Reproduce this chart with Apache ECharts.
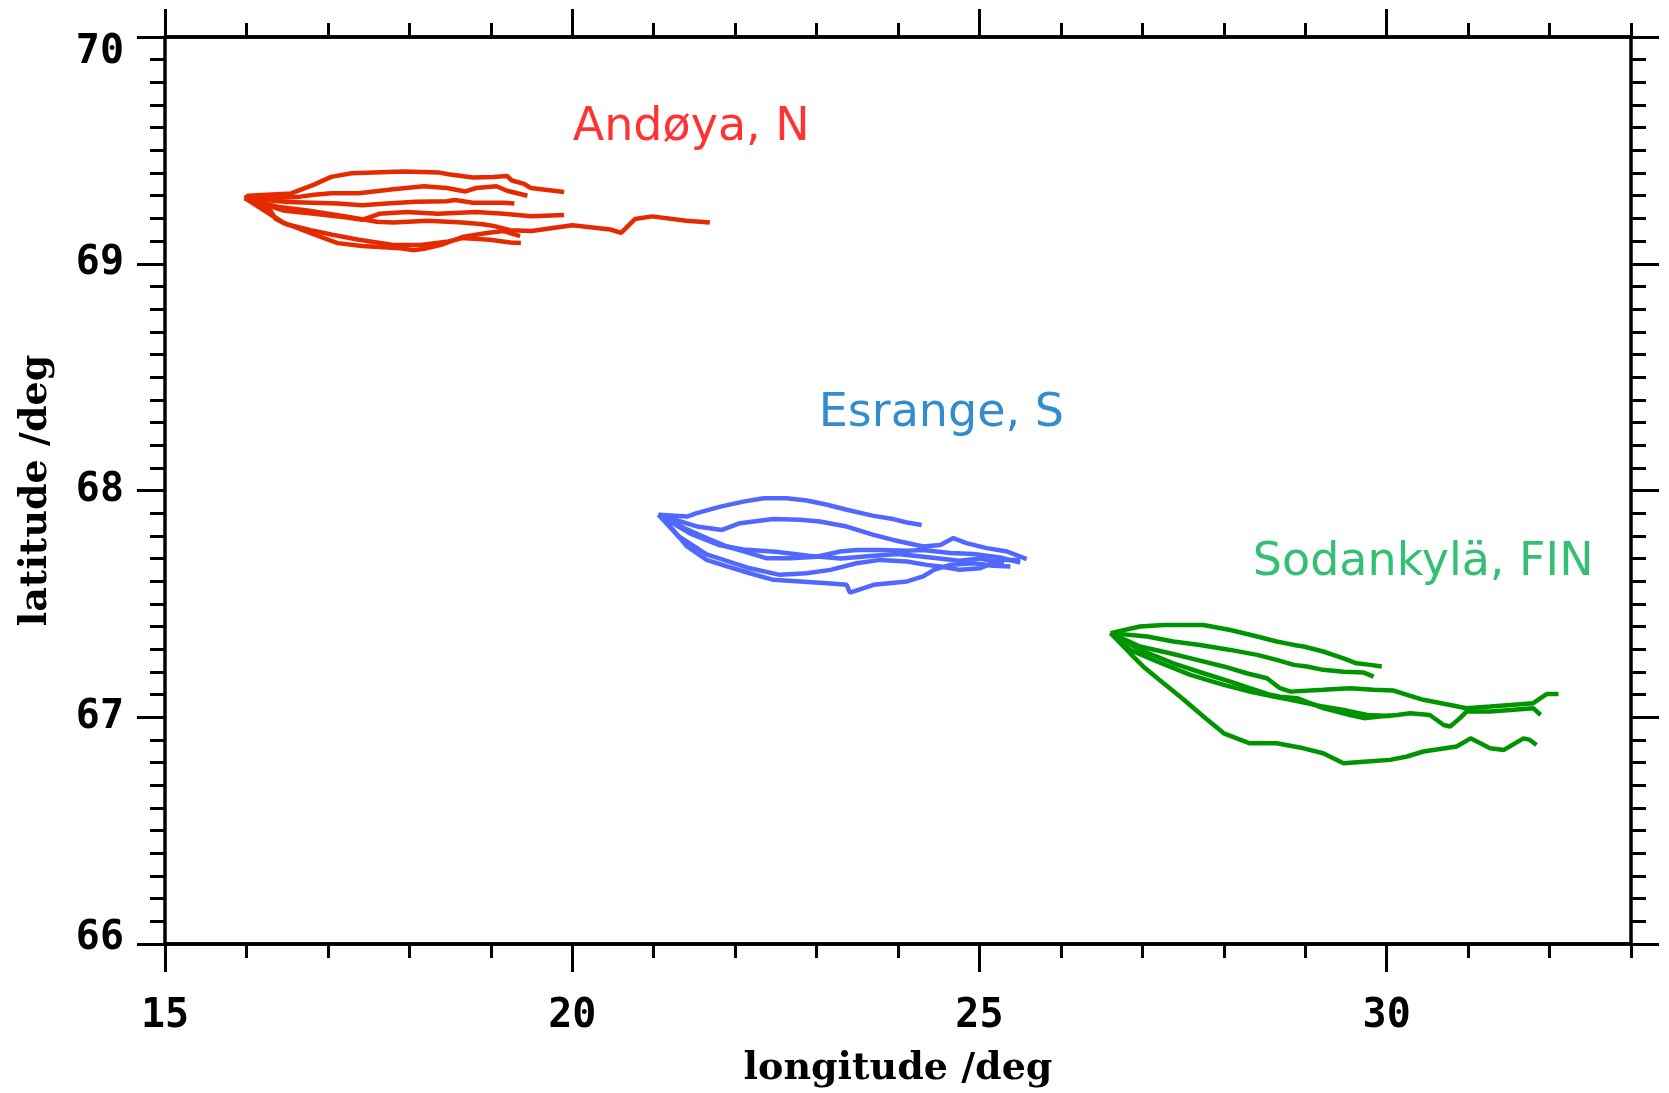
<!DOCTYPE html>
<html>
<head>
<meta charset="utf-8">
<title>Balloon trajectories</title>
<script src="https://cdn.jsdelivr.net/npm/echarts@6/dist/echarts.min.js"></script>
<style>
  html, body { margin: 0; padding: 0; background: #fff; }
  #chart-wrap { width: 1669px; height: 1093px; }
</style>
</head>
<body>
<div id="chart-wrap"></div>
<script>
;(function(){
  // tick labels
  var lonTicks = [15, 20, 25, 30];
  var latTicks = [66, 67, 68, 69, 70];

  // station names and where their names are written [lon, lat]
  var stationNames = ['Andøya, N', 'Esrange, S', 'Sodankylä, FIN'];
  var stationNamePos = [[20.0, 69.600], [23.02, 68.338], [28.35, 67.678]];

  // trajectories, each point [lon, lat]
  var andoyaTracks = [
    [[15.98,69.29],[16.02,69.30],[16.55,69.31],[16.66,69.326],[16.83,69.349],[17.04,69.383],[17.29,69.399],[17.93,69.407],[18.37,69.402],[18.48,69.395],[18.78,69.380],[19.03,69.383],[19.20,69.387],[19.26,69.367],[19.41,69.352],[19.49,69.334],[19.90,69.316]],
    [[15.98,69.29],[16.40,69.290],[16.66,69.296],[16.83,69.304],[17.04,69.311],[17.38,69.311],[17.80,69.329],[18.18,69.342],[18.46,69.334],[18.69,69.319],[18.82,69.334],[19.07,69.342],[19.20,69.322],[19.45,69.300]],
    [[15.98,69.29],[16.50,69.272],[17.12,69.266],[17.42,69.258],[17.72,69.266],[18.08,69.273],[18.46,69.276],[18.56,69.281],[18.78,69.269],[19.16,69.269],[19.29,69.266]],
    [[15.98,69.29],[16.45,69.235],[16.83,69.220],[17.21,69.205],[17.42,69.194],[17.63,69.220],[17.97,69.228],[18.35,69.220],[18.82,69.228],[19.16,69.220],[19.50,69.209],[19.90,69.215]],
    [[15.98,69.29],[16.40,69.250],[16.75,69.235],[17.20,69.210],[17.60,69.185],[17.80,69.182],[18.23,69.190],[18.65,69.182],[18.90,69.174],[19.03,69.167],[19.24,69.148],[19.50,69.144],[20.00,69.170],[20.47,69.151],[20.60,69.136],[20.77,69.197],[20.98,69.209],[21.40,69.190],[21.69,69.182]],
    [[15.98,69.29],[16.28,69.243],[16.36,69.197],[16.49,69.174],[16.79,69.148],[17.04,69.129],[17.38,69.106],[17.80,69.083],[18.14,69.083],[18.48,69.098],[18.65,69.113],[18.99,69.106],[19.24,69.094],[19.37,69.091]],
    [[15.98,69.29],[16.45,69.182],[16.83,69.129],[17.12,69.091],[17.42,69.078],[17.89,69.068],[18.06,69.060],[18.18,69.066],[18.39,69.083],[18.65,69.118],[18.95,69.136],[19.16,69.144],[19.36,69.122]]
  ];

  var esrangeTracks = [
    [[21.06,67.893],[21.41,67.885],[21.53,67.900],[21.82,67.929],[22.10,67.951],[22.35,67.966],[22.63,67.966],[22.88,67.956],[23.13,67.937],[23.37,67.915],[23.70,67.888],[23.94,67.874],[24.11,67.859],[24.29,67.848]],
    [[21.06,67.893],[21.55,67.840],[21.84,67.826],[22.06,67.856],[22.47,67.874],[22.80,67.871],[23.04,67.863],[23.37,67.841],[23.70,67.804],[23.94,67.782],[24.31,67.753],[24.52,67.760],[24.68,67.790],[24.84,67.768],[25.09,67.746],[25.34,67.731],[25.58,67.697]],
    [[21.06,67.893],[21.40,67.830],[21.65,67.790],[21.90,67.753],[22.18,67.724],[22.39,67.701],[22.68,67.701],[23.00,67.708],[23.29,67.731],[23.49,67.738],[23.78,67.738],[24.11,67.734],[24.31,67.738],[24.64,67.724],[24.93,67.720],[25.25,67.705],[25.50,67.682]],
    [[21.06,67.893],[21.24,67.826],[21.41,67.753],[21.65,67.694],[21.90,67.665],[22.18,67.635],[22.47,67.606],[22.80,67.599],[23.13,67.591],[23.37,67.584],[23.41,67.550],[23.70,67.584],[24.11,67.599],[24.31,67.621],[24.44,67.650],[24.64,67.672],[24.93,67.679],[25.17,67.668],[25.38,67.665]],
    [[21.06,67.893],[21.30,67.800],[21.65,67.718],[22.18,67.657],[22.55,67.628],[22.88,67.635],[23.17,67.650],[23.49,67.679],[23.78,67.694],[24.11,67.687],[24.35,67.672],[24.52,67.665],[24.76,67.650],[25.01,67.657],[25.25,67.694],[25.50,67.694]],
    [[21.06,67.893],[21.45,67.810],[21.80,67.760],[22.10,67.740],[22.50,67.730],[22.90,67.712],[23.30,67.700],[23.70,67.712],[24.00,67.720],[24.40,67.705],[24.75,67.690],[25.00,67.700],[25.30,67.680]]
  ];

  var sodankylaTracks = [
    [[26.61,67.371],[26.97,67.400],[27.26,67.407],[27.75,67.407],[28.08,67.385],[28.41,67.356],[28.65,67.334],[28.86,67.319],[28.98,67.312],[29.22,67.290],[29.47,67.260],[29.63,67.238],[29.80,67.231],[29.94,67.224]],
    [[26.61,67.371],[27.06,67.356],[27.38,67.334],[27.71,67.319],[28.08,67.297],[28.41,67.275],[28.65,67.253],[28.86,67.231],[29.02,67.224],[29.22,67.209],[29.47,67.201],[29.72,67.197],[29.84,67.179]],
    [[26.61,67.371],[26.97,67.312],[27.34,67.282],[27.67,67.253],[28.00,67.224],[28.28,67.194],[28.53,67.172],[28.69,67.128],[28.82,67.113],[29.22,67.121],[29.55,67.128],[29.84,67.121],[30.08,67.118],[30.25,67.099],[30.45,67.077],[30.78,67.054],[30.98,67.040],[31.27,67.047],[31.52,67.054],[31.80,67.062],[31.89,67.084],[31.97,67.103],[32.11,67.103]],
    [[26.61,67.371],[26.97,67.297],[27.38,67.238],[27.75,67.194],[28.08,67.157],[28.32,67.128],[28.57,67.099],[28.69,67.091],[28.90,67.084],[29.22,67.040],[29.55,67.010],[29.72,66.996],[29.92,67.003],[30.13,67.010],[30.29,67.018],[30.53,67.010],[30.70,66.966],[30.78,66.959],[30.90,66.996],[30.98,67.025],[31.27,67.025],[31.52,67.032],[31.80,67.040],[31.89,67.010]],
    [[26.61,67.371],[26.85,67.297],[27.18,67.246],[27.59,67.187],[28.00,67.143],[28.32,67.113],[28.61,67.091],[28.82,67.077],[29.22,67.047],[29.47,67.032],[29.76,67.010],[30.05,67.005]],
    [[26.61,67.371],[26.85,67.282],[27.01,67.224],[27.26,67.150],[27.51,67.077],[27.75,67.003],[28.00,66.929],[28.32,66.885],[28.65,66.885],[28.98,66.863],[29.22,66.841],[29.47,66.797],[29.72,66.804],[30.04,66.812],[30.25,66.827],[30.45,66.849],[30.86,66.871],[31.03,66.907],[31.27,66.863],[31.44,66.856],[31.68,66.907],[31.76,66.900],[31.84,66.878]]
  ];

  var trackColors = ['#e62a00', '#5068ff', '#009400'];
  var nameColors = ['#ff0000', '#0070c0', '#00b050'];

  var frameLine = { show: true, lineStyle: { color: '#000', width: 3.5 } };
  var tickFont = { fontFamily: 'DejaVu Sans Mono', fontWeight: 'bold', fontSize: 40, color: '#000' };
  var titleFont = { fontFamily: 'DejaVu Serif', fontWeight: 'bold', fontSize: 38, color: '#000' };

  function lonAxis(pos, major, withLabel) {
    var ax = {
      type: 'value', position: pos, min: 15, max: 33,
      axisLine: frameLine,
      splitLine: { show: false },
      axisLabel: { show: false }
    };
    if (major) {
      ax.axisTick = { show: true, inside: false, length: 28, customValues: lonTicks, lineStyle: { color: '#000', width: 3 } };
      if (withLabel) {
        ax.axisLabel = {
          show: true, customValues: lonTicks, margin: 53,
          fontFamily: tickFont.fontFamily, fontWeight: tickFont.fontWeight,
          fontSize: tickFont.fontSize, color: tickFont.color
        };
        ax.name = 'longitude /deg';
        ax.nameLocation = 'middle';
        ax.nameGap = 106;
        ax.nameTextStyle = titleFont;
      }
    } else {
      ax.interval = 1;
      ax.axisTick = { show: true, inside: false, length: 14, lineStyle: { color: '#000', width: 3 } };
    }
    return ax;
  }

  function latAxis(pos, withLabel) {
    var ax = {
      type: 'value', position: pos, min: 66, max: 70, interval: 1,
      axisLine: frameLine,
      splitLine: { show: false },
      axisTick: { show: true, inside: false, length: 28, lineStyle: { color: '#000', width: 3 } },
      minorTick: { show: true, splitNumber: 10, length: 15, lineStyle: { color: '#000', width: 3 } },
      minorSplitLine: { show: false },
      axisLabel: { show: false }
    };
    if (withLabel) {
      ax.axisLabel = {
        show: true, margin: 41,
        fontFamily: tickFont.fontFamily, fontWeight: tickFont.fontWeight,
        fontSize: tickFont.fontSize, color: tickFont.color,
        formatter: function (v) {
          if (v === latTicks[latTicks.length - 1]) return '{dn|' + v + '}';
          if (v === latTicks[0]) return '{up|' + v + '}';
          return '{n|' + v + '}';
        },
        rich: {
          n: {},
          dn: { padding: [32, 0, 0, 0] },
          up: { padding: [0, 0, 10, 0] }
        }
      };
      ax.name = 'latitude /deg';
      ax.nameLocation = 'middle';
      ax.nameGap = 110;
      ax.nameTextStyle = titleFont;
    }
    return ax;
  }

  var series = [];
  [andoyaTracks, esrangeTracks, sodankylaTracks].forEach(function (tracks, s) {
    for (var i = 0, len = tracks.length; i < len; i++) {
      series.push({
        type: 'line',
        xAxisIndex: 0, yAxisIndex: 0,
        data: tracks[i],
        showSymbol: false,
        symbol: 'none',
        lineStyle: { color: trackColors[s], width: 4.5 },
        z: 2
      });
    }
    series.push({
      type: 'scatter',
      xAxisIndex: 0, yAxisIndex: 0,
      symbolSize: 1,
      itemStyle: { color: 'transparent' },
      data: [{ name: stationNames[s], value: stationNamePos[s] }],
      label: {
        show: true, position: 'right', distance: 0,
        formatter: '{b}',
        color: nameColors[s],
        fontFamily: 'DejaVu Sans', fontSize: 46
      },
      z: 3
    });
  });

  var myChart = echarts.init(document.getElementById('chart-wrap'));
  var option = {
    animation: false,
    backgroundColor: '#fff',
    grid: { left: 165, right: 38, top: 37, bottom: 149, containLabel: false, outerBoundsMode: 'none' },
    xAxis: [
      lonAxis('bottom', false),
      lonAxis('bottom', true, true),
      lonAxis('top', false),
      lonAxis('top', true, false)
    ],
    yAxis: [
      latAxis('left', true),
      latAxis('right', false)
    ],
    series: series
  };
  myChart.setOption(option);
})();
</script>
</body>
</html>
